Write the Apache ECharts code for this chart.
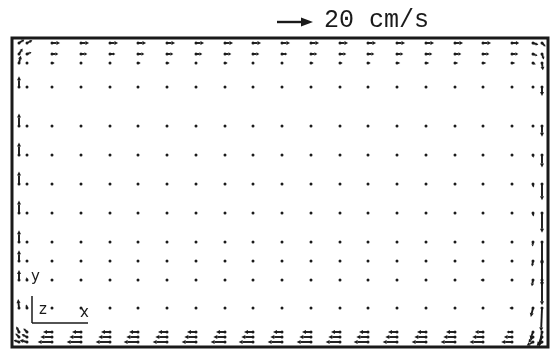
<!DOCTYPE html>
<html>
<head>
<meta charset="utf-8">
<script src="https://cdn.jsdelivr.net/npm/echarts@6/dist/echarts.min.js"></script>
<style>
  html, body { margin: 0; padding: 0; background: #fff; }
  #chart { width: 550px; height: 351px; }
</style>
</head>
<body>
<div id="chart"></div>
<script>
// grid positions (axis units) and velocities (cm/s)
const colX = [15, 40, 69, 98, 126, 155, 184, 213, 241, 270, 299, 328, 356, 385, 414, 443, 471, 500, 521]
const rowY = [304, 293, 284, 260, 221, 192, 163, 134, 105, 86, 67, 39, 15, 10, 5]

const uRows = [
  [3.0, 4.5, 4.5, 4.5, 4.5, 4.5, 4.5, 4.5, 4.5, 4.5, 4.5, 4.5, 4.5, 4.5, 4.5, 4.5, 4.5, 4.0, 3.0],
  [2.5, 3.5, 3.5, 3.0, 3.5, 3.5, 3.5, 3.5, 3.5, 3.0, 3.5, 3.5, 3.5, 3.5, 3.5, 3.5, 3.5, 3.5, 2.5],
  [1.0, 1.5, 1.2, 1.0, 1.5, 1.5, 1.2, 1.5, 1.2, 1.2, 1.5, 1.5, 1.5, 1.8, 1.8, 1.8, 1.8, 1.8, 1.5],
  [0.4, 0.5, 0.6, 0.4, 0.5, 0.4, 0.5, 0.6, 0.4, 0.4, 0.5, 0.6, 0.5, 0.5, 0.6, 0.4, 0.5, 0.5, 0.4],
  [0.3, 0.4, 0.5, 0.5, 0.4, 0.5, 0.4, 0.5, 0.4, 0.4, 0.5, 0.5, 0.6, 0.5, 0.4, 0.5, 0.6, 0.5, 0.3],
  [0.2, 0.4, 0.4, 0.3, 0.4, 0.3, 0.5, 0.6, 0.4, 0.3, 0.5, 0.6, 0.5, 0.4, 0.4, 0.5, 0.4, 0.4, 0.3],
  [0.2, 0.3, 0.4, 0.4, 0.3, 0.2, 0.5, 0.3, 0.2, 0.4, 0.5, 0.5, 0.4, 0.3, 0.4, 0.3, 0.4, 0.5, 0.2],
  [-0.2, 0.3, 0.3, 0.2, 0.2, 0.3, 0.2, 0.3, 0.3, 0.2, 0.3, 0.3, 0.2, 0.3, 0.2, 0.3, 0.2, 0.3, 0.2],
  [-0.3, -0.4, -0.4, -0.5, -0.5, -0.5, -0.4, -0.5, -0.4, -0.5, -0.5, -0.6, -0.5, -0.5, -0.6, -0.6, -0.7, -0.6, -0.3],
  [-0.3, -0.5, -0.6, -0.7, -0.7, -0.7, -0.6, -0.7, -0.7, -0.6, -0.7, -0.7, -0.8, -0.8, -0.9, -1.2, -1.2, -1.0, -0.5],
  [-0.3, -0.6, -0.7, -0.8, -0.8, -0.8, -0.8, -0.9, -0.8, -0.8, -0.9, -0.9, -1.0, -1.0, -1.1, -1.3, -1.4, -1.2, -0.6],
  [-0.5, -0.8, -0.8, -0.9, -0.8, -0.9, -1.0, -0.9, -1.0, -1.0, -1.0, -1.1, -1.0, -1.2, -1.2, -1.3, -1.3, -1.5, -1.2],
  [-2.0, -5.0, -5.0, -5.0, -5.0, -5.0, -5.0, -5.0, -5.0, -5.0, -5.0, -5.0, -5.0, -5.0, -5.0, -5.0, -4.5, -3.0, -1.5],
  [-3.0, -6.5, -6.5, -6.5, -6.5, -6.5, -6.5, -6.5, -6.5, -6.5, -6.5, -6.5, -6.5, -6.5, -6.5, -6.5, -6.0, -4.5, -2.5],
  [-4.0, -8.0, -8.0, -8.0, -8.0, -8.0, -8.0, -8.0, -8.0, -8.0, -8.0, -8.0, -8.0, -8.0, -8.0, -8.0, -7.5, -6.0, -3.5]
]
// vertical components in first / last column (interior ones are ~0)
const vFirstCol = [1.5, 1.0, 0.5, 0.5, 0.5, 0.5, 0.5, 0.8, 1.0, 1.2, 1.5, 2.0, 2.0, 1.5, 1.0]
const vLastCol = [-1.0, -1.0, -0.8, -1.0, -1.2, -1.5, -2.0, -2.0, -2.5, -3.0, -3.5, -5.0, -4.0, -3.0, -2.0]

// wall-adjacent columns
const leftWallX = 7
const leftWallU = [3.0, 2.0, 1.0, 0, 0, 0, 0, 0, 0, 0, 0, -0.5, -1.5, -2.0, -3.0]
const leftWallV = [2.0, 3.0, 4.0, 6.0, 7.0, 7.0, 7.0, 7.0, 6.5, 6.0, 5.5, 5.0, 3.0, 2.0, 1.0]
const rightWallX = 530
const rightWallU = [2.0, 1.0, 0.5, 0, 0, 0, 0, 0, 0, 0, 0, -0.5, -1.5, -2.5, -3.0]
const rightWallV = [-2.0, -3.0, -4.0, -5.0, -6.0, -7.0, -9.0, -11.0, -13.0, -14.0, -14.0, -13.0, -8.0, -5.0, -2.0]

const scaleRef = [[265, 325, 20, 0]]   // 20 cm/s reference arrow
const UNITS_PER_CMS = 1.8
const INK = '#1a1a1a'

const vectors = []
rowY.forEach((y, i) => {
  colX.forEach((x, j) => {
    const v = j === 0 ? vFirstCol[i] : (j === colX.length - 1 ? vLastCol[i] : 0)
    vectors.push([x, y, uRows[i][j], v])
  })
  vectors.push([leftWallX, y, leftWallU[i], leftWallV[i]])
  vectors.push([rightWallX, y, rightWallU[i], rightWallV[i]])
})

function arrow (api, headLen, headHalf, lineW, dot) {
  const x = api.value(0)
  const y = api.value(1)
  const p0 = api.coord([x, y])
  const p1 = api.coord([x + api.value(2) * UNITS_PER_CMS, y + api.value(3) * UNITS_PER_CMS])
  const dx = p1[0] - p0[0]
  const dy = p1[1] - p0[1]
  const len = Math.hypot(dx, dy)
  const children = []
  if (dot) {
    children.push({ type: 'circle', shape: { cx: p0[0], cy: p0[1], r: 1.5 }, style: { fill: INK } })
  }
  if (len > 2.5) {
    const ux = dx / len
    const uy = dy / len
    const h = Math.min(headLen, len * 0.45)
    const hw = Math.min(headHalf, h * 0.6)
    const bx = p1[0] - ux * h
    const by = p1[1] - uy * h
    children.push({ type: 'line', shape: { x1: p0[0], y1: p0[1], x2: bx, y2: by }, style: { stroke: INK, lineWidth: lineW } })
    children.push({
      type: 'polygon',
      shape: { points: [[p1[0], p1[1]], [bx - uy * hw, by + ux * hw], [bx + uy * hw, by - ux * hw]] },
      style: { fill: INK }
    })
  }
  return { type: 'group', children: children }
}

const chart = echarts.init(document.getElementById('chart'))
chart.setOption({
  animation: false,
  backgroundColor: '#fff',
  grid: { left: 12, right: 2, top: 38, bottom: 4, show: true, borderColor: INK, borderWidth: 3, backgroundColor: 'transparent' },
  xAxis: { type: 'value', min: 0, max: 536, show: false },
  yAxis: { type: 'value', min: 0, max: 309, show: false },
  graphic: [
    { type: 'text', left: 324, top: 8, style: { text: '20 cm/s', font: '25px "Liberation Mono"', fill: INK } },
    { type: 'line', shape: { x1: 32, y1: 296, x2: 32, y2: 323 }, style: { stroke: INK, lineWidth: 1.5 } },
    { type: 'line', shape: { x1: 32, y1: 323, x2: 88, y2: 323 }, style: { stroke: INK, lineWidth: 1.5 } },
    { type: 'text', left: 31, top: 270, style: { text: 'y', font: '15px "DejaVu Sans"', fill: INK } },
    { type: 'text', left: 39, top: 303, style: { text: 'z', font: '15px "DejaVu Sans"', fill: INK } },
    { type: 'text', left: 80, top: 306, style: { text: 'x', font: '15px "DejaVu Sans"', fill: INK } }
  ],
  series: [
    {
      type: 'custom',
      clip: false,
      silent: true,
      data: vectors,
      renderItem: (params, api) => arrow(api, 4, 2, 1.9, true)
    },
    {
      type: 'custom',
      clip: false,
      silent: true,
      data: scaleRef,
      renderItem: (params, api) => arrow(api, 12, 4.5, 2.4, false)
    }
  ]
})
</script>
</body>
</html>
